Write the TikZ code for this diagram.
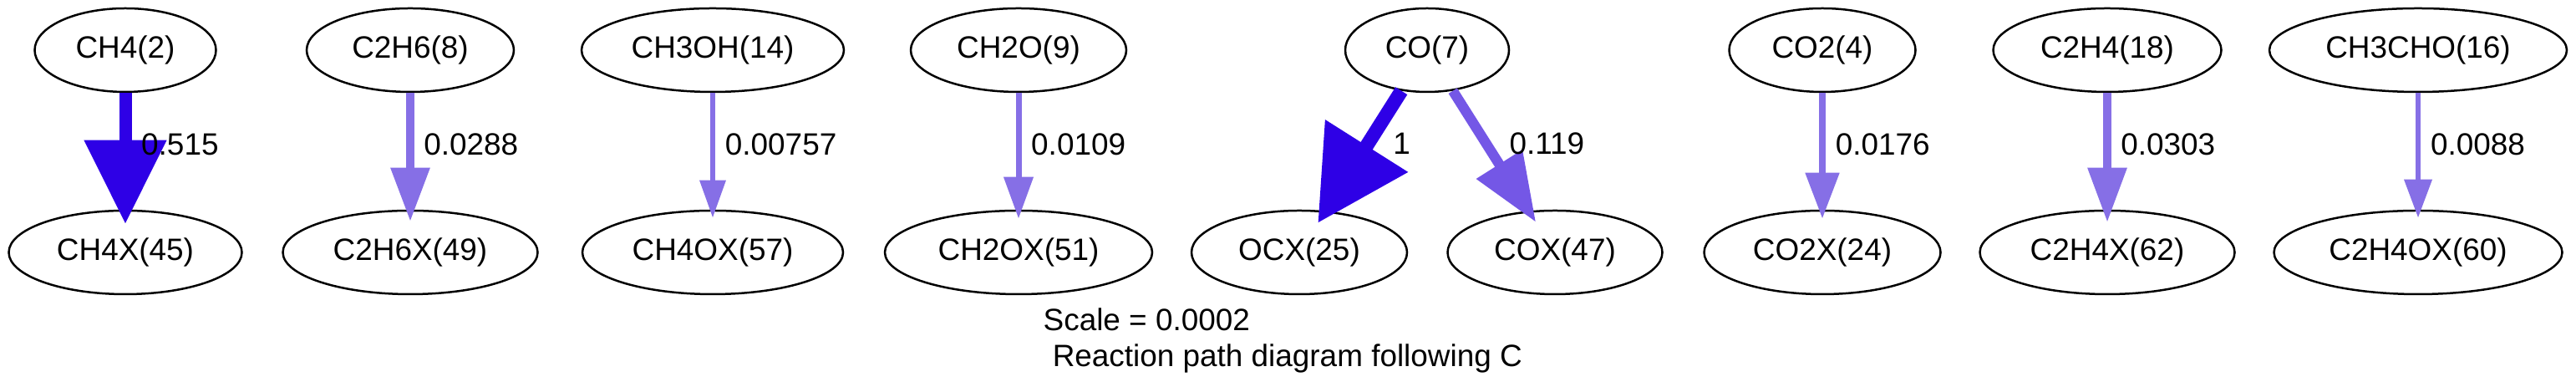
\documentclass[tikz,border=0pt]{standalone}
\usepackage{fontspec}
\setmainfont{Liberation Sans}
\usepackage{xcolor}
\usetikzlibrary{shapes, arrows.meta, positioning}

\definecolor{strongflow}{HTML}{2E00E6}
\definecolor{midflow}{HTML}{7457E6}
\definecolor{weakflow}{HTML}{866FE6}

\begin{document}
\begin{tikzpicture}[
        species/.style={ellipse, draw, line width=0.025cm, minimum height=1cm, inner sep=0pt, font=\fontsize{10.5}{12.2}\selectfont},
        flow/.style={draw=weakflow, line width=0.07cm, -{Triangle[length=0.5cm, width=0.34cm]}, shorten >=-0.11cm},
        flow_label/.style={pos=0.44, right, font=\fontsize{10.5}{12.2}\selectfont}
    ]
    \useasboundingbox (0,0) rectangle (30.83,-4.69);

    % gas phase species (top row)
    \node[species, minimum width=2.17cm] (ch4) at (1.50,-0.60) {CH4(2)};
    \node[species, minimum width=2.48cm] (c2h6) at (4.91,-0.60) {C2H6(8)};
    \node[species, minimum width=3.14cm] (ch3oh) at (8.53,-0.60) {CH3OH(14)};
    \node[species, minimum width=2.58cm] (ch2o) at (12.19,-0.60) {CH2O(9)};
    \node[species, minimum width=1.96cm] (co) at (17.08,-0.60) {CO(7)};
    \node[species, minimum width=2.23cm] (co2) at (21.81,-0.60) {CO2(4)};
    \node[species, minimum width=2.73cm] (c2h4) at (25.22,-0.60) {C2H4(18)};
    \node[species, minimum width=3.56cm] (ch3cho) at (28.94,-0.60) {CH3CHO(16)};

    % adsorbed species (bottom row)
    \node[species, minimum width=2.79cm] (ch4x) at (1.50,-3.02) {CH4X(45)};
    \node[species, minimum width=3.05cm] (c2h6x) at (4.91,-3.02) {C2H6X(49)};
    \node[species, minimum width=3.12cm] (ch4ox) at (8.53,-3.02) {CH4OX(57)};
    \node[species, minimum width=3.20cm] (ch2ox) at (12.19,-3.02) {CH2OX(51)};
    \node[species, minimum width=2.58cm] (ocx) at (15.55,-3.02) {OCX(25)};
    \node[species, minimum width=2.57cm] (cox) at (18.61,-3.02) {COX(47)};
    \node[species, minimum width=2.83cm] (co2x) at (21.81,-3.02) {CO2X(24)};
    \node[species, minimum width=3.05cm] (c2h4x) at (25.22,-3.02) {C2H4X(62)};
    \node[species, minimum width=3.45cm] (c2h4ox) at (28.94,-3.02) {C2H4OX(60)};

    % fluxes
    \draw[flow, draw=strongflow, line width=0.15cm, -{Triangle[length=1.0cm, width=0.95cm]}, shorten >=-0.17cm] (ch4) -- (ch4x) node[flow_label] {0.515};
    \draw[flow, line width=0.092cm, -{Triangle[length=0.64cm, width=0.45cm]}, shorten >=-0.14cm] (c2h6) -- (c2h6x) node[flow_label] {0.0288};
    \draw[flow, line width=0.064cm, -{Triangle[length=0.45cm, width=0.30cm]}, shorten >=-0.10cm] (ch3oh) -- (ch4ox) node[flow_label] {0.00757};
    \draw[flow] (ch2o) -- (ch2ox) node[flow_label] {0.0109};
    \draw[flow, draw=strongflow, line width=0.167cm, -{Triangle[length=1.09cm, width=1.13cm]}, shorten >=-0.17cm] (co) -- (ocx) node[flow_label, right=0.1cm] {1};
    \draw[flow, draw=midflow, line width=0.122cm, -{Triangle[length=0.82cm, width=0.62cm]}, shorten >=-0.16cm] (co) -- (cox) node[flow_label, right=0.1cm] {0.119};
    \draw[flow, line width=0.082cm, -{Triangle[length=0.55cm, width=0.39cm]}] (co2) -- (co2x) node[flow_label] {0.0176};
    \draw[flow, line width=0.093cm, -{Triangle[length=0.65cm, width=0.45cm]}, shorten >=-0.15cm] (c2h4) -- (c2h4x) node[flow_label] {0.0303};
    \draw[flow, line width=0.068cm, -{Triangle[length=0.46cm, width=0.32cm]}, shorten >=-0.10cm] (ch3cho) -- (c2h4ox) node[flow_label] {0.0088};

    \node[anchor=north west, inner sep=0pt, align=left, font=\fontsize{10.5}{12.2}\selectfont] (caption) at (12.48,-3.68) {Scale = 0.0002\\\hspace*{0.3em}Reaction path diagram following C};
\end{tikzpicture}
\end{document}
